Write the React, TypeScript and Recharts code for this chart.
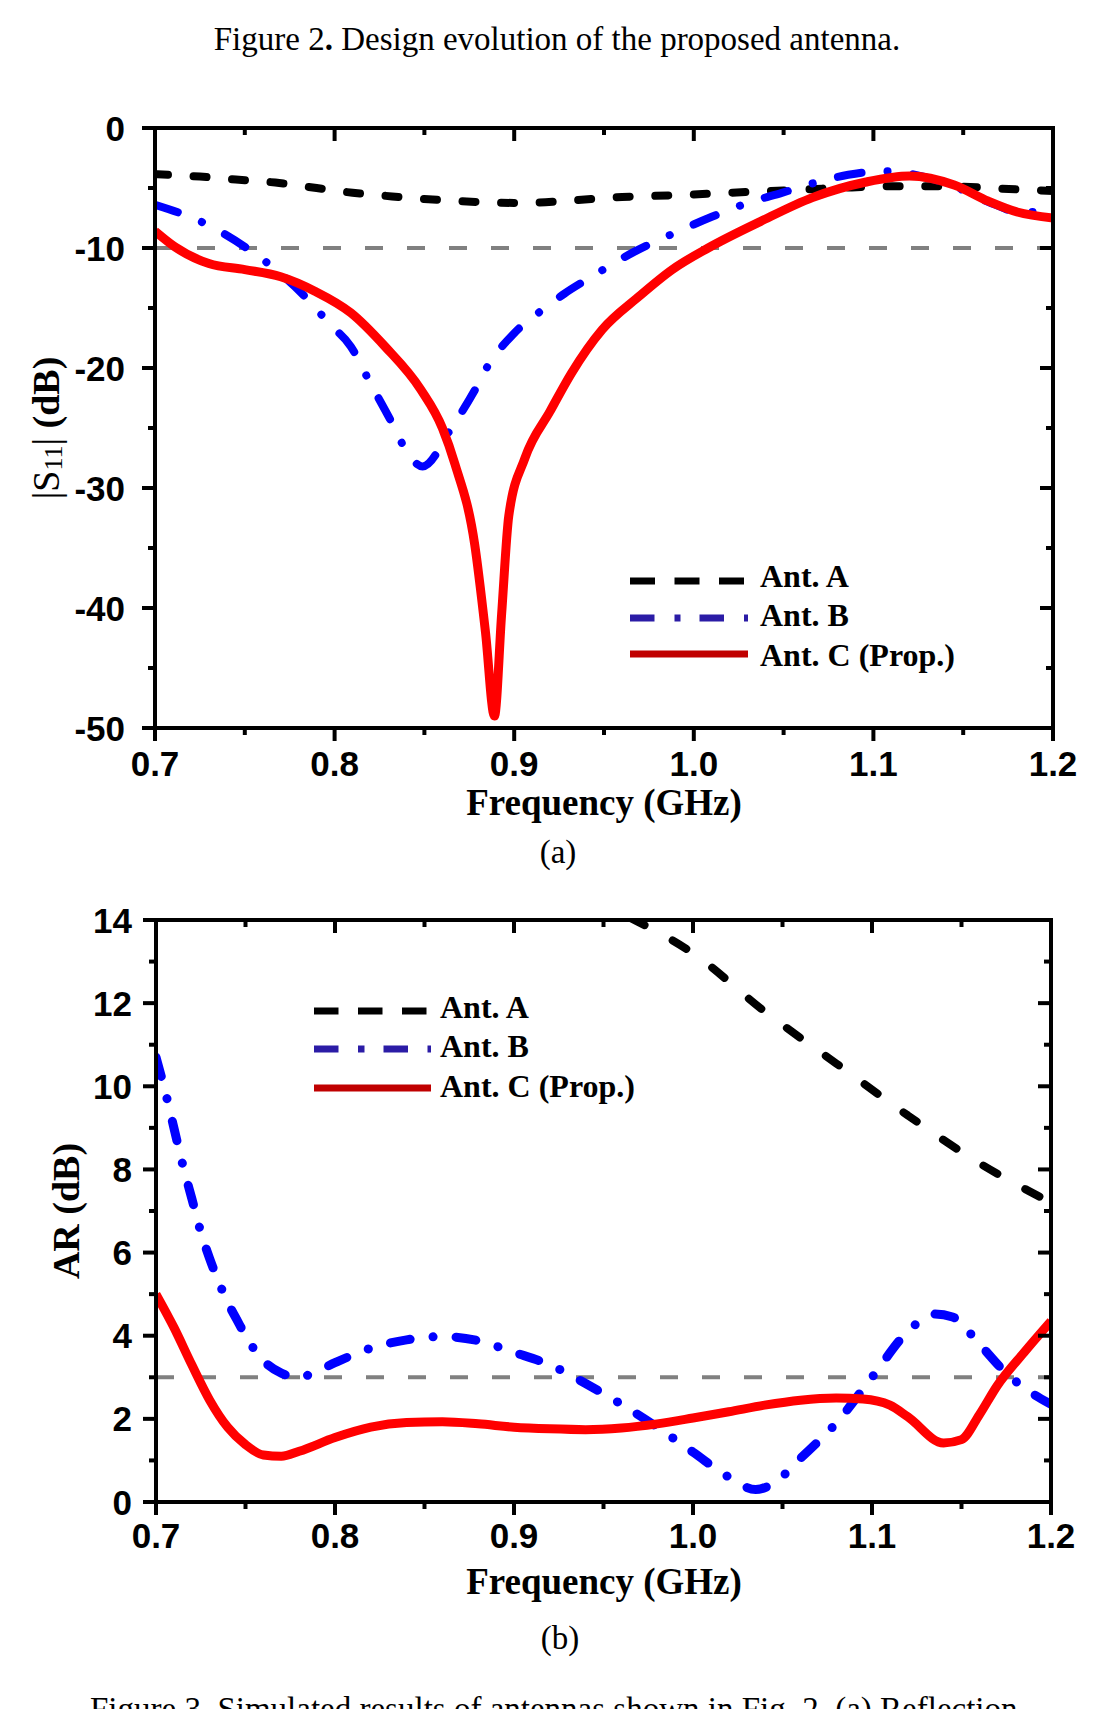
import React from "react";
import { LineChart, Line, XAxis, YAxis, ReferenceLine } from "recharts";

const SANS = "'Liberation Sans', Arial, sans-serif";
const SERIF = "'Liberation Serif', 'Times New Roman', serif";

// shared frequency axis (GHz)
const freqTicks = [0.7, 0.75, 0.8, 0.85, 0.9, 0.95, 1.0, 1.05, 1.1, 1.15, 1.2];
const freqMajor = [0.7, 0.8, 0.9, 1.0, 1.1, 1.2];

// (a) |S11| in dB
const s11Ticks = [0, -5, -10, -15, -20, -25, -30, -35, -40, -45, -50];
const s11Major = [0, -10, -20, -30, -40, -50];

const s11FreqA = [0.7, 0.725, 0.745, 0.767, 0.79, 0.81, 0.832, 0.87, 0.905, 0.93, 0.96, 0.99, 1.02, 1.05, 1.08, 1.11, 1.14, 1.17, 1.2];
const s11AntA = [-3.85, -4.05, -4.3, -4.55, -5.0, -5.4, -5.7, -6.1, -6.25, -6.05, -5.75, -5.6, -5.4, -5.2, -5.0, -4.85, -4.85, -5.05, -5.25];

const s11FreqB = [0.7, 0.727, 0.751, 0.763, 0.787, 0.797, 0.809, 0.82, 0.832, 0.838, 0.849, 0.865, 0.879, 0.885, 0.9, 0.918, 0.928, 0.943, 0.967, 0.993, 1.01, 1.03, 1.049, 1.069, 1.086, 1.106, 1.12, 1.143, 1.168, 1.18, 1.2];
const s11AntB = [-6.4, -7.9, -10.0, -11.3, -14.6, -16.3, -18.2, -21.3, -24.6, -26.4, -28.2, -25.0, -21.6, -19.9, -17.1, -14.9, -13.8, -12.4, -10.3, -8.5, -7.4, -6.25, -5.4, -4.5, -3.9, -3.6, -3.8, -4.75, -6.4, -7.0, -7.0];

const s11FreqC = [0.7, 0.711, 0.73, 0.75, 0.77, 0.789, 0.809, 0.828, 0.848, 0.86, 0.867, 0.878, 0.884, 0.889, 0.893, 0.897, 0.906, 0.92, 0.932, 0.949, 0.969, 0.988, 1.008, 1.037, 1.066, 1.096, 1.12, 1.145, 1.164, 1.18, 1.2];
const s11AntC = [-8.6, -9.9, -11.3, -11.8, -12.4, -13.6, -15.4, -18.2, -21.8, -25.0, -28.0, -34.7, -42.0, -49.0, -40.5, -32.3, -27.5, -23.6, -20.4, -16.8, -14.1, -11.8, -10.0, -7.8, -5.8, -4.5, -4.0, -4.75, -6.1, -7.0, -7.5];

// (b) axial ratio in dB
const arTicks = [0, 1, 2, 3, 4, 5, 6, 7, 8, 9, 10, 11, 12, 13, 14];
const arMajor = [0, 2, 4, 6, 8, 10, 12, 14];

const arFreqA = [0.965, 1.0, 1.04, 1.08, 1.12, 1.16, 1.2];
const arAntA = [14.05, 13.2, 11.8, 10.55, 9.3, 8.15, 7.2];

const arFreqB = [0.7, 0.705, 0.71, 0.715, 0.72, 0.725, 0.73, 0.735, 0.74, 0.745, 0.75, 0.76, 0.77, 0.78, 0.79, 0.8, 0.82, 0.84, 0.86, 0.88, 0.9, 0.92, 0.94, 0.96, 0.98, 1.0, 1.02, 1.035, 1.045, 1.06, 1.08, 1.1, 1.12, 1.135, 1.145, 1.16, 1.175, 1.19, 1.2];
const arAntB = [10.7, 9.9, 9.0, 8.1, 7.3, 6.5, 5.85, 5.3, 4.8, 4.4, 4.0, 3.4, 3.1, 3.0, 3.15, 3.35, 3.7, 3.9, 3.98, 3.88, 3.6, 3.3, 2.85, 2.35, 1.8, 1.2, 0.6, 0.3, 0.45, 1.05, 1.9, 3.0, 4.1, 4.52, 4.45, 3.8, 3.1, 2.6, 2.35];

const arFreqC = [0.7, 0.71, 0.72, 0.73, 0.74, 0.75, 0.76, 0.77, 0.78, 0.8, 0.82, 0.84, 0.86, 0.88, 0.9, 0.92, 0.94, 0.96, 0.98, 1.0, 1.02, 1.04, 1.06, 1.08, 1.095, 1.11, 1.12, 1.14, 1.15, 1.16, 1.17, 1.185, 1.2];
const arAntC = [5.0, 4.2, 3.3, 2.45, 1.8, 1.38, 1.13, 1.1, 1.22, 1.55, 1.8, 1.91, 1.93, 1.88, 1.8, 1.76, 1.74, 1.78, 1.88, 2.02, 2.17, 2.33, 2.45, 2.5, 2.48, 2.33, 2.05, 1.42, 1.5, 2.1, 2.8, 3.6, 4.35];

const zip = (f: number[], v: number[]) => f.map((x, i) => ({ f: x, v: v[i] }));
const isIn = (arr: number[], v: number) => arr.some((m) => Math.abs(m - v) < 1e-6);

// custom ticks: Recharts gives (x, y) on the axis line because tickSize/tickMargin are 0
function makeTick(side: "bottom" | "top" | "left" | "right", majors: number[], labelOff = 0, fmt?: (v: number) => string) {
  return (props: any) => {
    const { x, y, payload } = props;
    const v = payload.value;
    const major = isIn(majors, v);
    const len = major ? 13 : 7;
    let line = { x1: x, y1: y, x2: x, y2: y };
    if (side === "bottom") line.y2 = y + len;
    if (side === "top") line.y2 = y + len;
    if (side === "left") line.x2 = x - len;
    if (side === "right") line.x2 = x - len;
    return (
      <g>
        <line {...line} stroke="#000" strokeWidth={4} />
        {major && fmt && side === "bottom" && (
          <text x={x} y={y + labelOff} textAnchor="middle" fontFamily={SANS} fontWeight="bold" fontSize={35} fill="#000">
            {fmt(v)}
          </text>
        )}
        {major && fmt && side === "left" && (
          <text x={x - labelOff} y={y + 12.5} textAnchor="end" fontFamily={SANS} fontWeight="bold" fontSize={35} fill="#000">
            {fmt(v)}
          </text>
        )}
      </g>
    );
  };
}

const axisLine = { stroke: "#000", strokeWidth: 4, strokeLinecap: "square" as const };

function Frame({ yTicks, yMajor, yDomain, leftWidth, xLabelOff, yLabelOff }: any) {
  return null;
}

function LegendRows({ x1, x2, textX, rows }: { x1: number; x2: number; textX: number; rows: { y: number; base: number; label: string; stroke: string; dash?: string }[] }) {
  return (
    <g>
      {rows.map((r) => (
        <g key={r.label}>
          <line x1={x1} x2={x2} y1={r.y} y2={r.y} stroke={r.stroke} strokeWidth={7} strokeDasharray={r.dash} />
          <text x={textX} y={r.base} fontFamily={SERIF} fontWeight="bold" fontSize={32} fill="#000">
            {r.label}
          </text>
        </g>
      ))}
    </g>
  );
}

export default function App() {
  const freqFmt = (v: number) => v.toFixed(1);
  const intFmt = (v: number) => String(v);

  return (
    <div style={{ position: "absolute", left: 0, top: 0, width: 1100, height: 1709, background: "#fff", overflow: "hidden" }}>
      {/* (a) reflection coefficient */}
      <div style={{ position: "absolute", left: 0, top: 0 }}>
        <LineChart width={1100} height={900} margin={{ top: 126, right: 45, bottom: 72, left: 0 }}>
          <XAxis xAxisId="b" dataKey="f" type="number" domain={[0.7, 1.2]} allowDataOverflow ticks={freqTicks} interval={0}
            height={100} tickSize={0} tickMargin={0} axisLine={axisLine} tickLine={false}
            tick={makeTick("bottom", freqMajor, 48, freqFmt)} />
          <XAxis xAxisId="t" orientation="top" dataKey="f" type="number" domain={[0.7, 1.2]} allowDataOverflow ticks={freqTicks} interval={0}
            height={2} tickSize={0} tickMargin={0} axisLine={axisLine} tickLine={false}
            tick={makeTick("top", freqMajor)} />
          <YAxis yAxisId="l" type="number" domain={[-50, 0]} allowDataOverflow ticks={s11Ticks} interval={0}
            width={155} tickSize={0} tickMargin={0} axisLine={axisLine} tickLine={false}
            tick={makeTick("left", s11Major, 30, intFmt)} />
          <YAxis yAxisId="r" orientation="right" type="number" domain={[-50, 0]} allowDataOverflow ticks={s11Ticks} interval={0}
            width={2} tickSize={0} tickMargin={0} axisLine={axisLine} tickLine={false}
            tick={makeTick("right", s11Major)} />
          <ReferenceLine xAxisId="b" yAxisId="l" y={-10} stroke="#808080" strokeWidth={4} strokeDasharray="18 24" />
          <Line xAxisId="b" yAxisId="l" data={zip(s11FreqA, s11AntA)} dataKey="v" type="monotone" stroke="#000" strokeWidth={8}
            strokeDasharray="13 25.6" strokeLinecap="round" dot={false} activeDot={false} isAnimationActive={false} />
          <Line xAxisId="b" yAxisId="l" data={zip(s11FreqB, s11AntB)} dataKey="v" type="monotone" stroke="#0000ff" strokeWidth={8}
            strokeDasharray="24 26 0.1 26" strokeLinecap="round" dot={false} activeDot={false} isAnimationActive={false} />
          <Line xAxisId="b" yAxisId="l" data={zip(s11FreqC, s11AntC)} dataKey="v" type="monotone" stroke="#ff0000" strokeWidth={9}
            dot={false} activeDot={false} isAnimationActive={false} />
        </LineChart>
      </div>

      {/* (b) axial ratio */}
      <div style={{ position: "absolute", left: 0, top: 880 }}>
        <LineChart width={1100} height={829} margin={{ top: 38, right: 47, bottom: 107, left: 0 }}>
          <XAxis xAxisId="b" dataKey="f" type="number" domain={[0.7, 1.2]} allowDataOverflow ticks={freqTicks} interval={0}
            height={100} tickSize={0} tickMargin={0} axisLine={axisLine} tickLine={false}
            tick={makeTick("bottom", freqMajor, 46, freqFmt)} />
          <XAxis xAxisId="t" orientation="top" dataKey="f" type="number" domain={[0.7, 1.2]} allowDataOverflow ticks={freqTicks} interval={0}
            height={2} tickSize={0} tickMargin={0} axisLine={axisLine} tickLine={false}
            tick={makeTick("top", freqMajor)} />
          <YAxis yAxisId="l" type="number" domain={[0, 14]} allowDataOverflow ticks={arTicks} interval={0}
            width={156} tickSize={0} tickMargin={0} axisLine={axisLine} tickLine={false}
            tick={makeTick("left", arMajor, 24, intFmt)} />
          <YAxis yAxisId="r" orientation="right" type="number" domain={[0, 14]} allowDataOverflow ticks={arTicks} interval={0}
            width={2} tickSize={0} tickMargin={0} axisLine={axisLine} tickLine={false}
            tick={makeTick("right", arMajor)} />
          <ReferenceLine xAxisId="b" yAxisId="l" y={3} stroke="#808080" strokeWidth={4} strokeDasharray="18 24" />
          <Line xAxisId="b" yAxisId="l" data={zip(arFreqA, arAntA)} dataKey="v" type="monotone" stroke="#000" strokeWidth={8}
            strokeDasharray="16 32" strokeLinecap="round" dot={false} activeDot={false} isAnimationActive={false} />
          <Line xAxisId="b" yAxisId="l" data={zip(arFreqB, arAntB)} dataKey="v" type="monotone" stroke="#0000ff" strokeWidth={9}
            strokeDasharray="20 23 0.1 23" strokeLinecap="round" dot={false} activeDot={false} isAnimationActive={false} />
          <Line xAxisId="b" yAxisId="l" data={zip(arFreqC, arAntC)} dataKey="v" type="monotone" stroke="#ff0000" strokeWidth={9}
            dot={false} activeDot={false} isAnimationActive={false} />
        </LineChart>
      </div>

      {/* captions, axis titles, legends */}
      <svg width={1100} height={1709} style={{ position: "absolute", left: 0, top: 0, pointerEvents: "none" }}>
        <text x={557} y={50} textAnchor="middle" fontFamily={SERIF} fontSize={33} fill="#000">
          Figure 2<tspan fontWeight="bold">.</tspan> Design evolution of the proposed antenna.
        </text>

        <text x={604} y={815} textAnchor="middle" fontFamily={SERIF} fontWeight="bold" fontSize={37} fill="#000">Frequency (GHz)</text>
        <text transform="rotate(-90 46 428)" x={46} y={428} textAnchor="middle" dominantBaseline="central" fontFamily={SERIF} fontSize={38} fill="#000">
          <tspan>|S</tspan>
          <tspan fontSize={26} dy={7}>11</tspan>
          <tspan dy={-7}>|</tspan>
          <tspan fontWeight="bold"> (dB)</tspan>
        </text>
        <text x={558} y={863} textAnchor="middle" fontFamily={SERIF} fontSize={33} fill="#000">(a)</text>
        <LegendRows x1={630} x2={748} textX={760} rows={[
          { y: 581, base: 587, label: "Ant. A", stroke: "#000", dash: "25 19.5" },
          { y: 618, base: 626, label: "Ant. B", stroke: "#2b1ca6", dash: "24.5 20 6 19" },
          { y: 654, base: 666, label: "Ant. C (Prop.)", stroke: "#c00000" },
        ]} />

        <text x={604} y={1594} textAnchor="middle" fontFamily={SERIF} fontWeight="bold" fontSize={37} fill="#000">Frequency (GHz)</text>
        <text transform="rotate(-90 66 1211)" x={66} y={1211} textAnchor="middle" dominantBaseline="central" fontFamily={SERIF} fontWeight="bold" fontSize={38} fill="#000">
          AR (dB)
        </text>
        <text x={560} y={1649} textAnchor="middle" fontFamily={SERIF} fontSize={33} fill="#000">(b)</text>
        <LegendRows x1={314} x2={431} textX={440} rows={[
          { y: 1011, base: 1018, label: "Ant. A", stroke: "#000", dash: "24.5 19.5" },
          { y: 1049, base: 1057, label: "Ant. B", stroke: "#2b1ca6", dash: "24.5 19.5 6.5 19" },
          { y: 1088, base: 1097, label: "Ant. C (Prop.)", stroke: "#c00000" },
        ]} />

        <text x={90} y={1720} fontFamily={SERIF} fontSize={33} fill="#000">
          Figure 3. Simulated results of antennas shown in Fig. 2. (a) Reflection
        </text>
      </svg>
    </div>
  );
}
